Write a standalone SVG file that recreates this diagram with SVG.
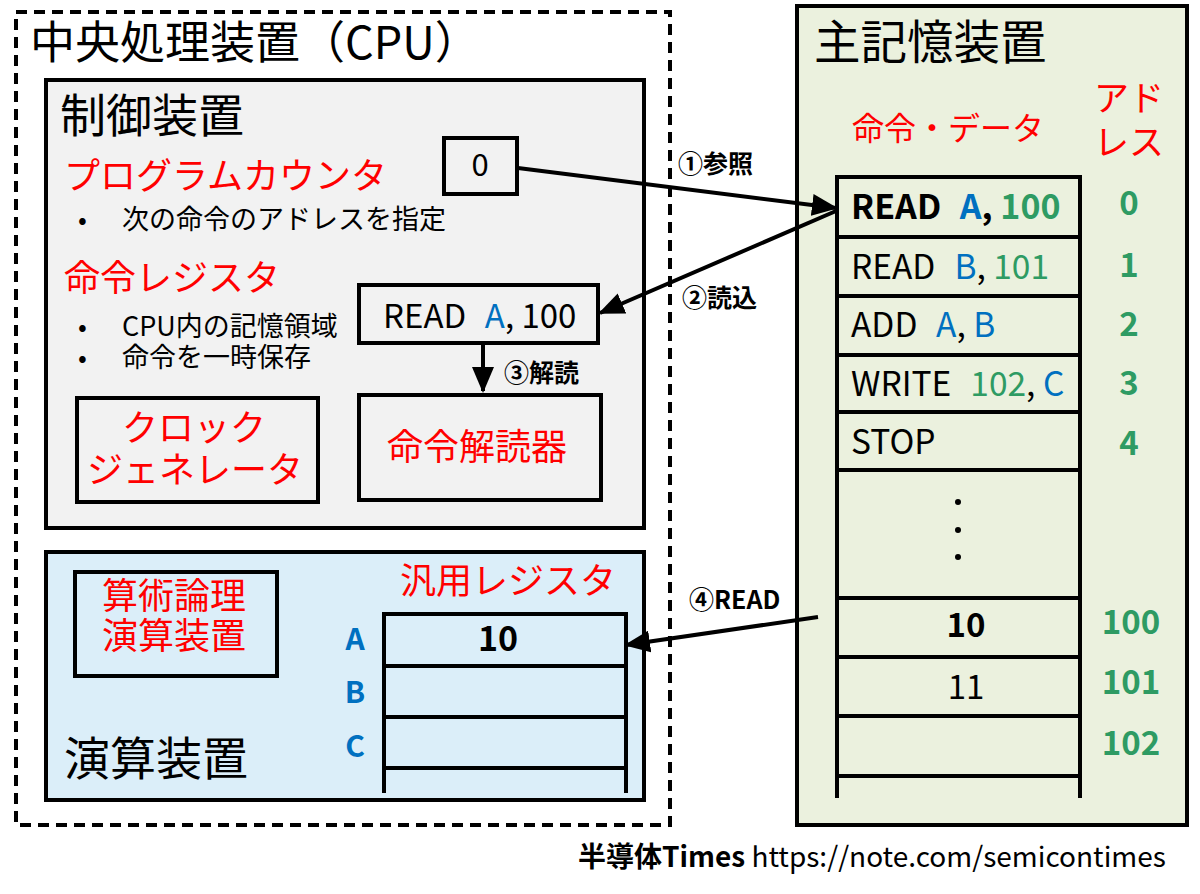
<svg xmlns="http://www.w3.org/2000/svg" width="1200" height="894" viewBox="0 0 1200 894">
<style>
text{font-family:"Noto Sans CJK JP","Noto Sans",sans-serif;}
.k{fill:#000}
.r{fill:#ff0000}
.b{fill:#0070c0}
.g{fill:#2e9b63}
.bold{font-weight:bold}
.box{stroke:#000;stroke-width:4}
.ln{stroke:#000;stroke-width:4;fill:none}
.con{stroke:#000;stroke-width:4;fill:none}
</style>
<defs>
<marker id="ah" markerUnits="userSpaceOnUse" markerWidth="26" markerHeight="22" refX="24" refY="11" orient="auto">
<path d="M0,0 L26,11 L0,22 Z" fill="#000"/>
</marker>
</defs>
<rect width="1200" height="894" fill="#fff"/>

<g id="cpu">
<rect x="16" y="12" width="654" height="813" fill="none" stroke="#000" stroke-width="4" stroke-dasharray="11,7"/>
<text x="30" y="59" font-size="45" class="k">中央処理装置（CPU）</text>
</g>

<g id="control-unit">
<rect x="46" y="80" width="598" height="448" fill="#f2f2f2" class="box"/>
<text x="60" y="132" font-size="46" class="k">制御装置</text>
<text x="64" y="189" font-size="36" class="r">プログラムカウンタ</text>
<text x="78" y="229" font-size="26" class="k">•</text>
<text x="122" y="229" font-size="27" class="k">次の命令のアドレスを指定</text>
<text x="64" y="291" font-size="36" class="r">命令レジスタ</text>
<text x="78" y="336" font-size="26" class="k">•</text>
<text x="122" y="336" font-size="27" class="k">CPU内の記憶領域</text>
<text x="78" y="367" font-size="26" class="k">•</text>
<text x="122" y="367" font-size="27" class="k">命令を一時保存</text>
</g>

<g id="program-counter">
<rect x="444" y="138" width="73" height="56" fill="#f2f2f2" class="box"/>
<text x="480" y="176" font-size="31" text-anchor="middle" class="k">0</text>
</g>

<g id="instruction-register">
<rect x="359" y="285" width="239" height="58" fill="#f2f2f2" class="box"/>
<text x="383" y="328" font-size="33" class="k">READ<tspan class="b" dx="19">A</tspan>, 100</text>
</g>

<g id="clock-generator">
<rect x="77" y="398" width="241" height="104" fill="#f2f2f2" class="box"/>
<text x="194" y="441" font-size="36" text-anchor="middle" class="r">クロック</text>
<text x="195" y="483" font-size="36" text-anchor="middle" class="r">ジェネレータ</text>
</g>

<g id="instruction-decoder">
<rect x="359" y="395" width="242" height="105" fill="#f2f2f2" class="box"/>
<text x="477" y="460" font-size="36" text-anchor="middle" class="r">命令解読器</text>
</g>

<g id="arithmetic-unit">
<rect x="46" y="552" width="598" height="248" fill="#dbeef9" class="box"/>
<text x="64" y="775" font-size="46" class="k">演算装置</text>
</g>

<g id="alu">
<rect x="75" y="572" width="202" height="104" fill="#dbeef9" class="box"/>
<text x="174" y="609" font-size="36" text-anchor="middle" class="r">算術論理</text>
<text x="174" y="649" font-size="36" text-anchor="middle" class="r">演算装置</text>
</g>

<g id="general-registers">
<text x="400" y="594" font-size="36" class="r">汎用レジスタ</text>
<path class="ln" d="M384,612 V793 M626,612 V793 M382,614 H628 M382,666 H628 M382,717 H628 M382,768 H628"/>
<text x="355" y="650" font-size="30" class="b bold" text-anchor="middle">A</text>
<text x="355" y="703" font-size="30" class="b bold" text-anchor="middle">B</text>
<text x="355" y="757" font-size="30" class="b bold" text-anchor="middle">C</text>
<text x="498" y="651" font-size="34" class="k bold" text-anchor="middle">10</text>
</g>

<g id="main-memory">
<rect x="797" y="6" width="390" height="819" fill="#ebf1de" class="box"/>
<text x="814" y="59" font-size="46.5" class="k">主記憶装置</text>
<text x="852" y="140" font-size="32" class="r">命令・データ</text>
<text x="1094" y="111" font-size="35" class="r">アド</text>
<text x="1094" y="155" font-size="35" class="r">レス</text>
<path class="ln" d="M837,175 V798 M1080,175 V798 M835,177 H1082 M835,237 H1082 M835,296 H1082 M835,355 H1082 M835,412 H1082 M835,470 H1082 M835,598 H1082 M835,657 H1082 M835,716 H1082 M835,776 H1082"/>
<text x="851" y="219" font-size="34" class="k bold">READ<tspan class="b" dx="19">A</tspan>, <tspan class="g">100</tspan></text>
<text x="851" y="279" font-size="33.5" class="k">READ<tspan class="b" dx="19">B</tspan>, <tspan class="g">101</tspan></text>
<text x="851" y="337" font-size="33.5" class="k">ADD<tspan class="b" dx="19">A</tspan>, <tspan class="b">B</tspan></text>
<text x="851" y="396" font-size="33.5" class="k">WRITE<tspan class="g" dx="19">102</tspan>, <tspan class="b">C</tspan></text>
<text x="851" y="454" font-size="33.5" class="k">STOP</text>
<circle cx="958" cy="502" r="3" fill="#000"/>
<circle cx="958" cy="530" r="3" fill="#000"/>
<circle cx="958" cy="557" r="3" fill="#000"/>
<text x="966" y="637" font-size="33" class="k bold" text-anchor="middle">10</text>
<text x="966" y="699" font-size="33" class="k" text-anchor="middle">11</text>
<g class="g bold" font-size="33" text-anchor="middle">
<text x="1129" y="215">0</text>
<text x="1129" y="277">1</text>
<text x="1129" y="336">2</text>
<text x="1129" y="395">3</text>
<text x="1129" y="455">4</text>
<text x="1131" y="634">100</text>
<text x="1131" y="694">101</text>
<text x="1131" y="755">102</text>
</g>
</g>

<g id="connectors">
<line class="con" x1="518" y1="168" x2="836" y2="208" marker-end="url(#ah)"/>
<line class="con" x1="836" y1="211" x2="600" y2="313" marker-end="url(#ah)"/>
<line class="con" x1="483" y1="344" x2="483" y2="391" marker-end="url(#ah)"/>
<line class="con" x1="818" y1="617" x2="626" y2="645" marker-end="url(#ah)"/>
<text x="678" y="173" font-size="25" class="k bold">①参照</text>
<text x="682" y="307" font-size="25" class="k bold">②読込</text>
<text x="504" y="382" font-size="25" class="k bold">③解読</text>
<text x="689" y="609" font-size="25" class="k bold">④READ</text>
</g>

<g id="footer">
<text x="578" y="867" font-size="28" class="k"><tspan class="bold">半導体Times</tspan> https://note.com/semicontimes</text>
</g>
</svg>
